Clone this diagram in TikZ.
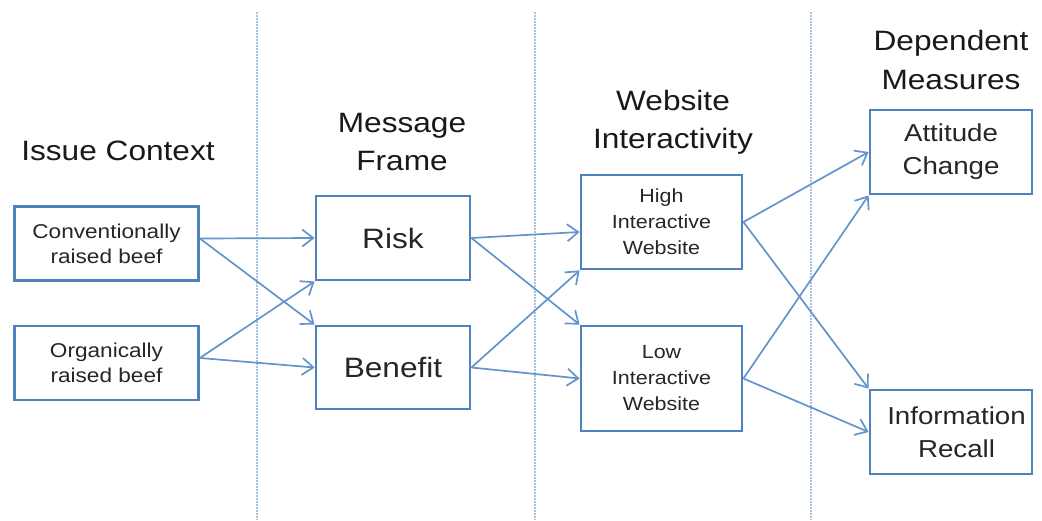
\documentclass[tikz,border=0pt]{standalone}
\usepackage{fontspec}
\setmainfont[FakeStretch=1.13]{Liberation Sans}
\usetikzlibrary{arrows.meta}
\definecolor{boxblue}{RGB}{79,129,189}
\definecolor{arrowblue}{RGB}{100,148,205}
\definecolor{dotblue}{RGB}{165,195,225}
\begin{document}
\begin{tikzpicture}[x=1pt,y=-1pt,
  box/.style={draw=boxblue, line width=2.8pt, inner sep=0pt, align=center, text=black!85},
  hdr/.style={inner sep=0pt, align=center, text=black!90, font=\fontsize{28}{38.5}\selectfont},
  conn/.style={draw=arrowblue, line width=1.7pt, -{Straight Barb[length=11pt,width=17pt]}},
  sepline/.style={draw=dotblue, line width=2pt, densely dotted}]
\useasboundingbox[fill=white] (0,0) rectangle (1042,520);
% separators
\draw[sepline] (257,12) -- (257,520);
\draw[sepline] (535,12) -- (535,520);
\draw[sepline] (811,12) -- (811,520);
% headers
\node[hdr] (h1) at (118,151) {Issue Context};
\node[hdr] (h2) at (402,142) {Message\\Frame};
\node[hdr] (h3) at (673,122.5) {Website\\Interactivity};
\node[hdr] (h4) at (951,60) {Dependent\\Measures};
% boxes
\node[box, minimum width=184pt, minimum height=74pt, font=\fontsize{20}{25}\selectfont] (conv) at (106.5,243.5) {Conventionally\\raised beef};
\node[box, minimum width=184pt, minimum height=74pt, font=\fontsize{20}{25}\selectfont] (org) at (106.5,363) {Organically\\raised beef};
\node[box, minimum width=154pt, minimum height=84pt, font=\fontsize{28}{34}\selectfont] (risk) at (393,238) {Risk};
\node[box, minimum width=154pt, minimum height=83pt, font=\fontsize{28}{34}\selectfont] (ben) at (393,367.5) {Benefit};
\node[box, minimum width=161pt, minimum height=94pt, font=\fontsize{19}{26}\selectfont] (high) at (661.5,222) {High\\Interactive\\Website};
\node[box, minimum width=161pt, minimum height=105pt, font=\fontsize{19}{26}\selectfont] (low) at (661.5,378.5) {Low\\Interactive\\Website};
\node[box, minimum width=162pt, minimum height=84pt, font=\fontsize{24.5}{33}\selectfont] (att) at (951,152) {Attitude\\Change};
\node[box, minimum width=162pt, minimum height=84pt, font=\fontsize{24.5}{33}\selectfont] (rec) at (951,432) {\hspace*{11pt}Information\\\hspace*{11pt}Recall};
% connectors
\draw[conn] ([yshift=5pt]conv.east) -- (risk.west);
\draw[conn] ([yshift=5pt]conv.east) -- (ben.north west);
\draw[conn] ([yshift=5pt]org.east) -- (risk.south west);
\draw[conn] ([yshift=5pt]org.east) -- (ben.west);
\draw[conn] (risk.east) -- ([yshift=-10pt]high.west);
\draw[conn] (risk.east) -- (low.north west);
\draw[conn] (ben.east) -- (high.south west);
\draw[conn] (ben.east) -- (low.west);
\draw[conn] (high.east) -- (att.west);
\draw[conn] (high.east) -- (rec.north west);
\draw[conn] (low.east) -- (att.south west);
\draw[conn] (low.east) -- (rec.west);
\end{tikzpicture}
\end{document}
